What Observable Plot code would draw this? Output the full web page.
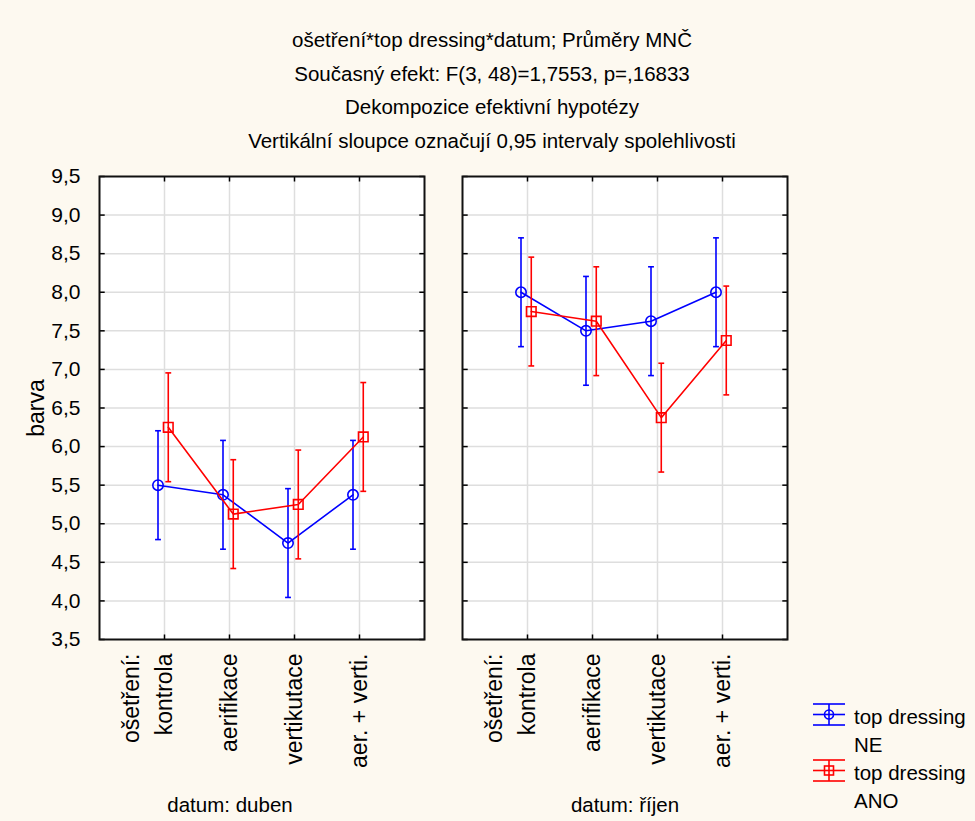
<!DOCTYPE html>
<html>
<head>
<meta charset="utf-8">
<script src="https://cdn.jsdelivr.net/npm/d3@7"></script>
<script src="https://cdn.jsdelivr.net/npm/@observablehq/plot@0.6"></script>
<style>
  html, body { margin: 0; padding: 0; background: #fdf9f0; }
  #wrap { position: relative; width: 975px; height: 821px; background: #fdf9f0; overflow: hidden;
          font-family: "Liberation Sans", Arial, sans-serif; color: #000; }
  #title { position: absolute; left: 0; top: 0; width: 975px; height: 160px; }
  #title div { position: absolute; left: 0; width: 984px; text-align: center; font-size: 20.5px; line-height: 24px; white-space: nowrap; }
  #chart { position: absolute; left: 0; top: 160px; }
  #legend { position: absolute; left: 800px; top: 690px; }
</style>
</head>
<body>
<div id="wrap">
  <div id="title"></div>
  <div id="chart"></div>
  <div id="legend"></div>
</div>
<script>
// ---- data ----
const titleLines = [
  "ošetření*top dressing*datum; Průměry MNČ",
  "Současný efekt: F(3, 48)=1,7553, p=,16833",
  "Dekompozice efektivní hypotézy",
  "Vertikální sloupce označují 0,95 intervaly spolehlivosti"
];
const categories = ["kontrola", "aerifikace", "vertikutace", "aer. + verti."];
const factorLabel = "ošetření:";
const dates = ["duben", "říjen"];
const seriesNames = ["NE", "ANO"];
const meanNE_duben  = [5.50, 5.375, 4.75, 5.375];
const meanANO_duben = [6.25, 5.125, 5.25, 6.125];
const meanNE_rijen  = [8.00, 7.50, 7.625, 8.00];
const meanANO_rijen = [7.75, 7.625, 6.375, 7.375];
const ciHalfWidth = [0.705, 0.705, 0.705, 0.705];
const yTicks = [3.5, 4.0, 4.5, 5.0, 5.5, 6.0, 6.5, 7.0, 7.5, 8.0, 8.5, 9.0, 9.5];
const yLabel = "barva";
const datumPrefix = "datum: ";
const legendLines = [["top dressing", "NE"], ["top dressing", "ANO"]];

// ---- build table ----
const means = {
  "duben": {NE: meanNE_duben, ANO: meanANO_duben},
  "říjen": {NE: meanNE_rijen, ANO: meanANO_rijen}
};
const dodge = {NE: -0.1, ANO: 0.058};
const colors = {NE: "#0000ff", ANO: "#ff0000"};
const rows = [];
for (const d of dates) for (const s of seriesNames) categories.forEach((c, i) => {
  const m = means[d][s][i];
  rows.push({datum: d, series: s, cat: c, pos: i + 1 + dodge[s], mean: m,
             lo: m - ciHalfWidth[i], hi: m + ciHalfWidth[i]});
});
const catPos = categories.map((c, i) => i + 1);
const xAxisTicks = [0.5, ...catPos];
const fmtX = v => v === 0.5 ? factorLabel : categories[v - 1];
const fmtY = v => v.toFixed(1).replace(".", ",");

// ---- title ----
const baselines = [46, 80, 113, 147];
const tEl = document.getElementById("title");
titleLines.forEach((t, i) => {
  const div = document.createElement("div");
  div.textContent = t;
  div.style.top = (baselines[i] - 18.5) + "px";
  tEl.appendChild(div);
});

// ---- marks per series ----
const capHalf = 0.045;
function seriesMarks(s) {
  const data = rows.filter(r => r.series === s);
  const c = colors[s];
  return [
    Plot.link(data, {fx: "datum", x1: "pos", x2: "pos", y1: "lo", y2: "hi", stroke: c, strokeWidth: 1.6}),
    Plot.link(data, {fx: "datum", x1: d => d.pos - capHalf, x2: d => d.pos + capHalf, y1: "lo", y2: "lo", stroke: c, strokeWidth: 1.6}),
    Plot.link(data, {fx: "datum", x1: d => d.pos - capHalf, x2: d => d.pos + capHalf, y1: "hi", y2: "hi", stroke: c, strokeWidth: 1.6}),
    Plot.line(data, {fx: "datum", x: "pos", y: "mean", z: "datum", stroke: c, strokeWidth: 1.6}),
    Plot.dot(data, {fx: "datum", x: "pos", y: "mean", r: s === "NE" ? 5.2 : 5.4,
                    symbol: s === "NE" ? "circle" : "square", stroke: c, strokeWidth: 1.6, fill: "none"})
  ];
}

const chart = Plot.plot({
  width: 975,
  height: 661,
  marginTop: 16,
  marginLeft: 99,
  marginRight: 188,
  marginBottom: 182,
  style: {fontFamily: "'Liberation Sans', Arial, sans-serif", fontSize: "20px", background: "transparent", color: "#000", overflow: "visible"},
  fx: {domain: dates, paddingInner: 0.1047, paddingOuter: 0, axis: null, label: null},
  x: {domain: [0, 5], label: null},
  y: {domain: [3.5, 9.5], label: null},
  marks: [
    Plot.frame({fill: "white", stroke: "none"}),
    Plot.gridY(yTicks.slice(1, -1), {stroke: "#dedede", strokeOpacity: 1, strokeWidth: 1.5}),
    Plot.gridX(catPos, {stroke: "#dedede", strokeOpacity: 1, strokeWidth: 1.5}),
    // inward ticks
    Plot.link(yTicks, {x1: 0, x2: 0.08, y1: d => d, y2: d => d, stroke: "#000", strokeWidth: 1.5}),
    Plot.link(yTicks, {x1: 4.92, x2: 5, y1: d => d, y2: d => d, stroke: "#000", strokeWidth: 1.5}),
    Plot.link(catPos, {x1: d => d, x2: d => d, y1: 3.5, y2: 3.565, stroke: "#000", strokeWidth: 1.5}),
    Plot.link(catPos, {x1: d => d, x2: d => d, y1: 9.435, y2: 9.5, stroke: "#000", strokeWidth: 1.5}),
    ...seriesMarks("NE"),
    ...seriesMarks("ANO"),
    Plot.frame({stroke: "#111", strokeWidth: 2}),
    Plot.axisY(yTicks, {anchor: "left", tickSize: 0, tickPadding: 19, tickFormat: fmtY, fontSize: 21, label: null}),
    Plot.axisX(xAxisTicks, {anchor: "bottom", tickSize: 0, tickPadding: 14, tickRotate: -90, tickFormat: fmtX, fontSize: 23, label: null}),
    Plot.text([yLabel], {fx: () => dates[0], frameAnchor: "left", textAnchor: "middle", lineAnchor: "middle", dx: -63, rotate: -90, fontSize: 23, text: d => d}),
    Plot.text([dates[0]], {fx: d => d, frameAnchor: "bottom", lineAnchor: "bottom", dy: 172, dx: -32, fontSize: 20.5, text: d => datumPrefix + d}),
    Plot.text([dates[1]], {fx: d => d, frameAnchor: "bottom", lineAnchor: "bottom", dy: 172, dx: 0, fontSize: 20.5, text: d => datumPrefix + d})
  ]
});
document.getElementById("chart").appendChild(chart);

// ---- legend ----
const lg = d3.select("#legend").append("svg").attr("width", 175).attr("height", 131)
  .style("font-family", "'Liberation Sans', Arial, sans-serif").style("font-size", "20.5px");
seriesNames.forEach((s, i) => {
  const c = colors[s];
  const cy = 24.5 + i * 56;
  const g = lg.append("g").attr("stroke", c).attr("stroke-width", 1.6).attr("fill", "none");
  [-10.5, 0, 10.5].forEach(o => g.append("line").attr("x1", 13).attr("x2", 45).attr("y1", cy + o).attr("y2", cy + o));
  g.append("line").attr("x1", 29).attr("x2", 29).attr("y1", cy - 10.5).attr("y2", cy + 10.5);
  if (s === "NE") g.append("circle").attr("cx", 29).attr("cy", cy).attr("r", 4.5);
  else g.append("rect").attr("x", 24.5).attr("y", cy - 4.5).attr("width", 9).attr("height", 9);
  lg.append("text").attr("x", 54).attr("y", 34 + i * 56).text(legendLines[i][0]);
  lg.append("text").attr("x", 54).attr("y", 62 + i * 56).text(legendLines[i][1]);
});
</script>
</body>
</html>
